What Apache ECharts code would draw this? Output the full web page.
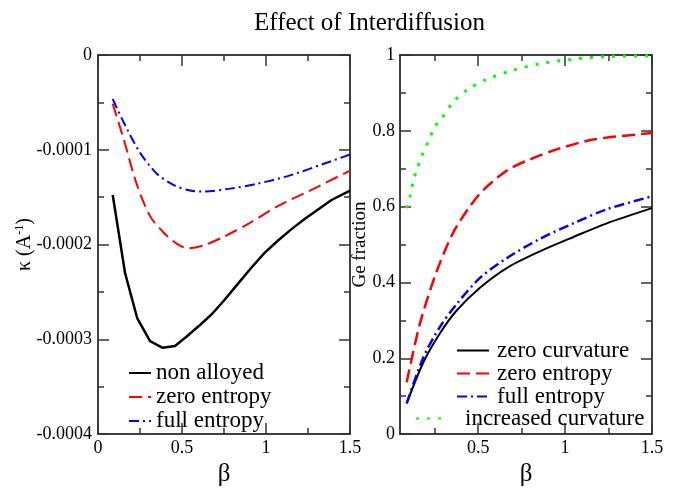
<!DOCTYPE html>
<html>
<head>
<meta charset="utf-8">
<script src="https://cdn.jsdelivr.net/npm/echarts@6/dist/echarts.min.js"></script>
<style>html,body{margin:0;padding:0;background:#fff}#c{width:679px;height:492px}</style>
</head>
<body>
<div id="c"></div>
<script>
// ---- Left panel: curvature kappa vs beta ----
const betaNonAlloyed = [0.0875,0.161,0.234,0.31,0.385,0.458,0.528,0.6,0.68,0.75,0.83,0.91,0.99,1.07,1.15,1.23,1.31,1.39,1.5];
const kappaNonAlloyed = [-1.477e-4,-2.30e-4,-2.78e-4,-3.02e-4,-3.09e-4,-3.07e-4,-2.97e-4,-2.86e-4,-2.73e-4,-2.59e-4,-2.42e-4,-2.25e-4,-2.09e-4,-1.96e-4,-1.84e-4,-1.73e-4,-1.63e-4,-1.53e-4,-1.43e-4];
const betaZeroEntropyK = [0.0875,0.151,0.23,0.31,0.389,0.468,0.538,0.627,0.746,0.905,1.064,1.262,1.5];
const kappaZeroEntropy = [-0.515e-4,-0.876e-4,-1.36e-4,-1.70e-4,-1.87e-4,-1.99e-4,-2.04e-4,-2.01e-4,-1.92e-4,-1.77e-4,-1.60e-4,-1.43e-4,-1.22e-4];
const betaFullEntropyK = [0.0875,0.151,0.25,0.349,0.448,0.548,0.637,0.786,0.944,1.143,1.34,1.5];
const kappaFullEntropy = [-0.464e-4,-0.704e-4,-1.03e-4,-1.25e-4,-1.37e-4,-1.43e-4,-1.44e-4,-1.41e-4,-1.36e-4,-1.27e-4,-1.15e-4,-1.05e-4];

// ---- Right panel: Ge fraction vs beta ----
const betaIncCurv = [0.0885,0.108,0.127,0.15,0.175,0.207,0.251,0.29,0.357,0.443,0.549,0.702,0.855,1.048,1.24,1.5];
const geIncCurv = [0.596,0.627,0.670,0.700,0.734,0.766,0.811,0.833,0.876,0.910,0.936,0.960,0.977,0.989,0.996,0.998];
const betaZeroEntropyG = [0.0885,0.165,0.261,0.357,0.453,0.53,0.664,0.779,0.952,1.163,1.5];
const geZeroEntropy = [0.137,0.292,0.429,0.532,0.601,0.644,0.695,0.721,0.751,0.777,0.794];
const betaCurvG = [0.0885,0.184,0.28,0.376,0.51,0.664,0.855,1.048,1.24,1.5];
const geZeroCurv = [0.081,0.189,0.266,0.326,0.386,0.438,0.482,0.520,0.556,0.596];
const geFullEntropy = [0.081,0.202,0.283,0.343,0.412,0.464,0.515,0.556,0.593,0.627];

const xTicksRightMajor = [0.5,1,1.5];
const xTicksRightMinor = [0.25,0.75,1.25];

const pairs = (xs, ys) => xs.map((x, i) => [x, ys[i]]);
const FONT = "'Liberation Serif','Times New Roman',serif";
const RED = '#ff0000', BLUE = '#0000ff', GREEN = '#00ff00', BLACK = '#000000';
const DASH = [13, 6], DASHDOT = [10, 4, 2, 4], DOT = [3, 8];

const frame = {onZero: false, lineStyle: {color: '#000', width: 1.5}};
const noLine = {show: false, onZero: false};
const tickStyle = {color: '#333', width: 1.5};
function kFmt(v){ if (Math.abs(v) < 1e-12) return '0'; return v.toFixed(4); }
function gFmt(v){ if (Math.abs(v) < 1e-9) return '0'; if (Math.abs(v-1) < 1e-9) return '1'; return v.toFixed(1); }
const lbl = {color: '#000', fontFamily: FONT, fontSize: 18};
const legendText = {fontFamily: FONT, fontSize: 23, color: '#000'};

const chart = echarts.init(document.getElementById('c'));
chart.setOption({
  animation: false,
  backgroundColor: '#fff',
  title: {text: 'Effect of Interdiffusion', left: 249, top: 6,
    textStyle: {fontFamily: FONT, fontSize: 25, fontWeight: 'normal', color: '#000'}},
  grid: [
    {left: 98, top: 55, width: 252, height: 388},
    {left: 400, top: 55, width: 252, height: 388}
  ],
  xAxis: [
    {type: 'value', gridIndex: 0, position: 'bottom', min: 0, max: 1.5, interval: 0.5,
     axisLine: frame, splitLine: {show: false},
     axisTick: {inside: true, length: 11, lineStyle: tickStyle},
     minorTick: {show: true, splitNumber: 2, length: 6, lineStyle: tickStyle},
     axisLabel: Object.assign({margin: 5, formatter: v => String(v)}, lbl),
     name: 'β', nameLocation: 'middle', nameGap: 17,
     nameTextStyle: {fontFamily: FONT, fontSize: 25, color: '#000'}},
    {type: 'value', gridIndex: 0, position: 'top', min: 0, max: 1.5, interval: 0.5,
     axisLine: frame, splitLine: {show: false},
     axisTick: {inside: true, length: 11, lineStyle: tickStyle},
     minorTick: {show: true, splitNumber: 2, length: 6, lineStyle: tickStyle},
     axisLabel: {show: false}},
    {type: 'value', gridIndex: 1, position: 'bottom', min: 0.05, max: 1.5,
     axisLine: frame, splitLine: {show: false},
     axisTick: {inside: true, length: 11, lineStyle: tickStyle, customValues: xTicksRightMajor},
     axisLabel: Object.assign({margin: 5, customValues: xTicksRightMajor, formatter: v => String(v)}, lbl),
     name: 'β', nameLocation: 'middle', nameGap: 17,
     nameTextStyle: {fontFamily: FONT, fontSize: 25, color: '#000'}},
    {type: 'value', gridIndex: 1, position: 'bottom', min: 0.05, max: 1.5,
     axisLine: noLine, splitLine: {show: false},
     axisTick: {inside: true, length: 6, lineStyle: tickStyle, customValues: xTicksRightMinor},
     axisLabel: {show: false}},
    {type: 'value', gridIndex: 1, position: 'top', min: 0.05, max: 1.5,
     axisLine: frame, splitLine: {show: false},
     axisTick: {inside: true, length: 11, lineStyle: tickStyle, customValues: xTicksRightMajor},
     axisLabel: {show: false}},
    {type: 'value', gridIndex: 1, position: 'top', min: 0.05, max: 1.5,
     axisLine: noLine, splitLine: {show: false},
     axisTick: {inside: true, length: 6, lineStyle: tickStyle, customValues: xTicksRightMinor},
     axisLabel: {show: false}}
  ],
  yAxis: [
    {type: 'value', gridIndex: 0, position: 'left', min: -0.0004, max: 0, interval: 0.0001,
     axisLine: frame, splitLine: {show: false},
     axisTick: {inside: true, length: 11, lineStyle: tickStyle},
     minorTick: {show: true, splitNumber: 2, length: 6, lineStyle: tickStyle},
     axisLabel: Object.assign({margin: 6, formatter: kFmt}, lbl),
     name: '{a|κ (A}{s|-1}{a|)}', nameLocation: 'middle', nameGap: 63, nameMoveOverlap: false,
     nameTextStyle: {fontFamily: FONT, fontSize: 20, color: '#000',
       rich: {a: {fontFamily: FONT, fontSize: 20, color: '#000'},
              s: {fontFamily: FONT, fontSize: 12, color: '#000', padding: [0, 0, 9, 0]}}}},
    {type: 'value', gridIndex: 0, position: 'right', min: -0.0004, max: 0, interval: 0.0001,
     axisLine: frame, splitLine: {show: false},
     axisTick: {inside: true, length: 11, lineStyle: tickStyle},
     minorTick: {show: true, splitNumber: 2, length: 6, lineStyle: tickStyle},
     axisLabel: {show: false}},
    {type: 'value', gridIndex: 1, position: 'left', min: 0, max: 1, interval: 0.2,
     axisLine: frame, splitLine: {show: false},
     axisTick: {inside: true, length: 11, lineStyle: tickStyle},
     minorTick: {show: true, splitNumber: 2, length: 6, lineStyle: tickStyle},
     axisLabel: Object.assign({margin: 5, formatter: gFmt}, lbl),
     name: 'Ge fraction', nameLocation: 'middle', nameGap: 30, nameMoveOverlap: false,
     nameTextStyle: {fontFamily: FONT, fontSize: 19, color: '#000'}},
    {type: 'value', gridIndex: 1, position: 'right', min: 0, max: 1, interval: 0.2,
     axisLine: frame, splitLine: {show: false},
     axisTick: {inside: true, length: 11, lineStyle: tickStyle},
     minorTick: {show: true, splitNumber: 2, length: 6, lineStyle: tickStyle},
     axisLabel: {show: false}}
  ],
  legend: [
    {data: ['non alloyed', 'zero entropy', 'full entropy'], orient: 'vertical', left: 128, top: 361,
     itemWidth: 22, itemHeight: 10, itemGap: 0, padding: 0, itemStyle: {opacity: 0},
     textStyle: Object.assign({lineHeight: 24}, legendText)},
    {data: ['zero curvature', 'zero entropy', 'full entropy'], orient: 'vertical', left: 456, top: 339,
     itemWidth: 32, itemHeight: 10, itemGap: 0, padding: 0, itemStyle: {opacity: 0},
     textStyle: Object.assign({lineHeight: 23, padding: [0,0,0,3]}, legendText)},
    {data: ['increased curvature'], orient: 'vertical', left: 415, top: 407,
     itemWidth: 30, itemHeight: 10, itemGap: 0, padding: 0, itemStyle: {opacity: 0},
     textStyle: Object.assign({lineHeight: 23, padding: [0,0,0,14]}, legendText)}
  ],
  series: [
    {name: 'non alloyed', type: 'line', xAxisIndex: 0, yAxisIndex: 0, symbol: 'none',
     data: pairs(betaNonAlloyed, kappaNonAlloyed), lineStyle: {color: BLACK, width: 2.5}, itemStyle: {color: BLACK}},
    {name: 'zero entropy', type: 'line', xAxisIndex: 0, yAxisIndex: 0, symbol: 'none', smooth: 0.3,
     data: pairs(betaZeroEntropyK, kappaZeroEntropy), lineStyle: {color: RED, width: 2, type: DASH}, itemStyle: {color: RED}},
    {name: 'full entropy', type: 'line', xAxisIndex: 0, yAxisIndex: 0, symbol: 'none', smooth: 0.3,
     data: pairs(betaFullEntropyK, kappaFullEntropy), lineStyle: {color: BLUE, width: 2, type: DASHDOT}, itemStyle: {color: BLUE}},
    {name: 'zero curvature', type: 'line', xAxisIndex: 2, yAxisIndex: 2, symbol: 'none', smooth: 0.3,
     data: pairs(betaCurvG, geZeroCurv), lineStyle: {color: BLACK, width: 2}, itemStyle: {color: BLACK}},
    {name: 'zero entropy', type: 'line', xAxisIndex: 2, yAxisIndex: 2, symbol: 'none', smooth: 0.3,
     data: pairs(betaZeroEntropyG, geZeroEntropy), lineStyle: {color: RED, width: 2.5, type: DASH}, itemStyle: {color: RED}},
    {name: 'full entropy', type: 'line', xAxisIndex: 2, yAxisIndex: 2, symbol: 'none', smooth: 0.3,
     data: pairs(betaCurvG, geFullEntropy), lineStyle: {color: BLUE, width: 2.5, type: DASHDOT}, itemStyle: {color: BLUE}},
    {name: 'increased curvature', type: 'line', xAxisIndex: 2, yAxisIndex: 2, symbol: 'none', smooth: 0.3,
     data: pairs(betaIncCurv, geIncCurv), lineStyle: {color: GREEN, width: 3, type: DOT}, itemStyle: {color: GREEN}}
  ]
});
</script>
</body>
</html>
